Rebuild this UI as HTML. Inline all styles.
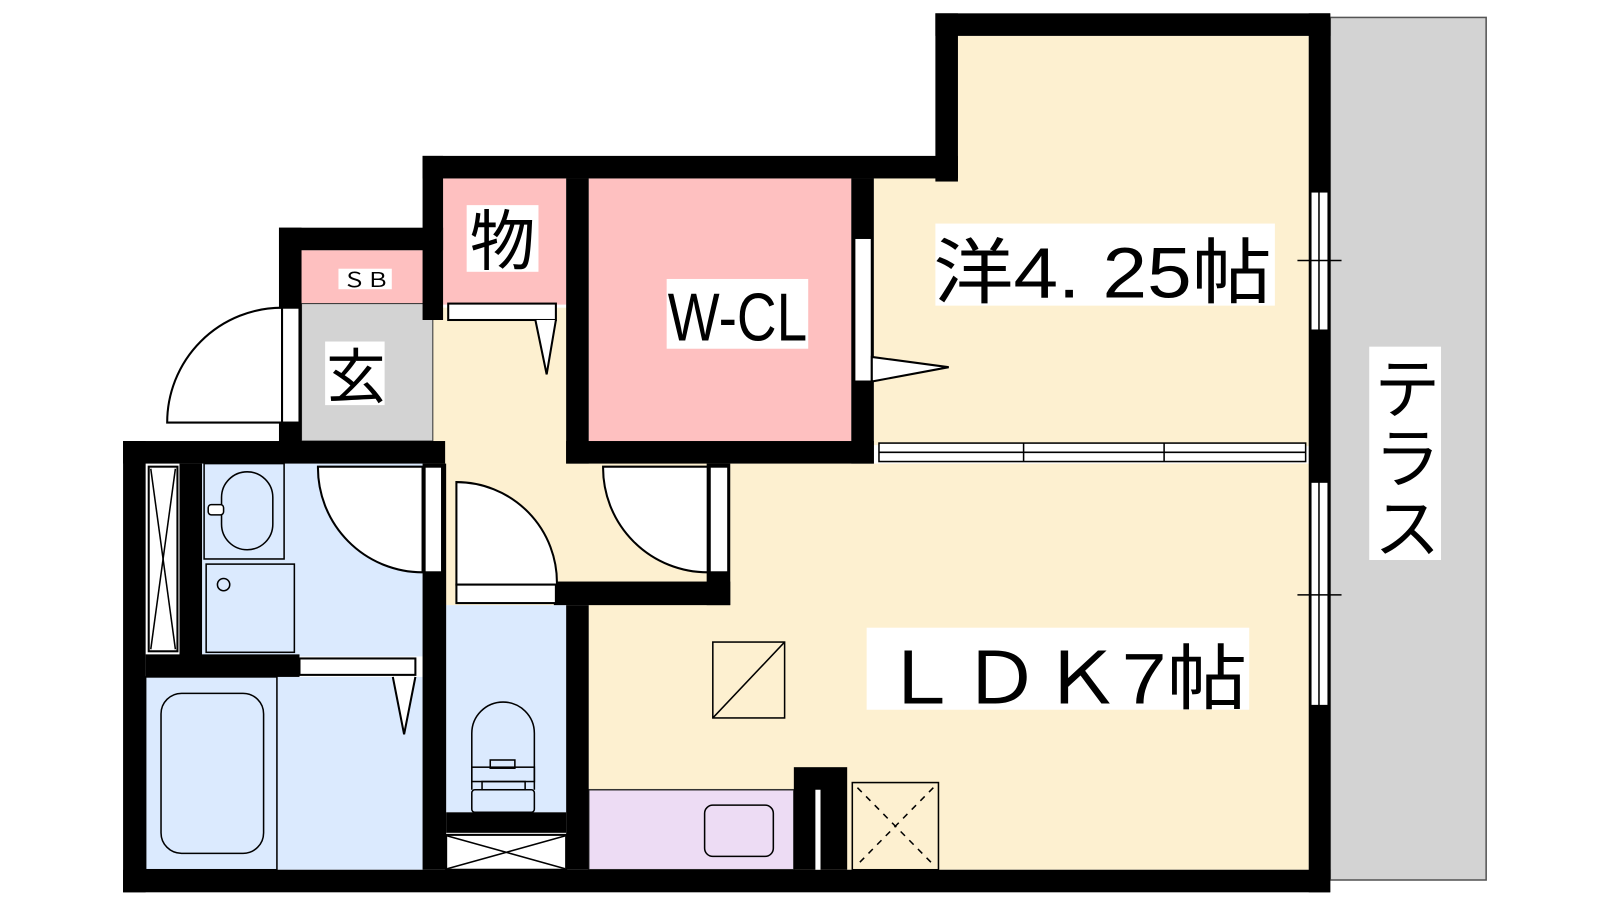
<!DOCTYPE html>
<html><head><meta charset="utf-8"><style>
html,body{margin:0;padding:0;background:#fff;width:1600px;height:900px;overflow:hidden}
svg{display:block}
text{font-family:"Liberation Sans","Noto Sans CJK JP",sans-serif;fill:#000}
</style></head><body>
<svg width="1600" height="900" viewBox="0 0 1560 877.5" preserveAspectRatio="none" xmlns="http://www.w3.org/2000/svg">
<rect x="1297" y="17" width="152" height="841" fill="#d3d3d3" stroke="#555" stroke-width="1.5"/>
<rect x="934" y="35" width="342" height="400" fill="#fdf0d0"/>
<rect x="852" y="174" width="100" height="260" fill="#fdf0d0"/>
<rect x="422" y="300" width="140" height="290" fill="#fdf0d0"/>
<rect x="435" y="440" width="260" height="130" fill="#fdf0d0"/>
<rect x="574" y="452" width="702" height="396" fill="#fdf0d0"/>
<rect x="574" y="174" width="256" height="256" fill="#fec0c0"/>
<rect x="432" y="174" width="120" height="123" fill="#fec0c0"/>
<rect x="294" y="244" width="118" height="52" fill="#fec0c0"/>
<rect x="294" y="296" width="128" height="134" fill="#d3d3d3" stroke="#333" stroke-width="1"/>
<rect x="197" y="452" width="215" height="188" fill="#dbeafe"/>
<rect x="142" y="660" width="270" height="188" fill="#dbeafe"/>
<rect x="435" y="590" width="117" height="202" fill="#dbeafe"/>
<rect x="574" y="770" width="200" height="78" fill="#eddcf4" stroke="#333" stroke-width="1.5"/>
<g fill="#000">
<rect x="912" y="13" width="385" height="22"/>
<rect x="912" y="13" width="22" height="164"/>
<rect x="1276" y="13" width="21" height="857"/>
<rect x="412" y="152" width="522" height="22"/>
<rect x="412" y="152" width="20" height="160"/>
<rect x="552" y="174" width="22" height="278"/>
<rect x="830" y="174" width="22" height="278"/>
<rect x="552" y="430" width="300" height="22"/>
<rect x="272" y="222" width="160" height="22"/>
<rect x="272" y="222" width="22" height="218"/>
<rect x="120" y="430" width="314" height="22"/>
<rect x="120" y="430" width="22" height="440"/>
<rect x="120" y="848" width="1177" height="22"/>
<rect x="175" y="452" width="22" height="188"/>
<rect x="142" y="638" width="150" height="22"/>
<rect x="412" y="452" width="23" height="396"/>
<rect x="540" y="567" width="172" height="23"/>
<rect x="689" y="452" width="23" height="138"/>
<rect x="552" y="590" width="22" height="258"/>
<rect x="435" y="792" width="117" height="20"/>
<rect x="774" y="748" width="52" height="100"/>
</g>
<rect x="795" y="770" width="5" height="78" fill="#fff"/>
<g fill="#fff" stroke="#000" stroke-width="1.5">
<rect x="1278" y="187" width="17" height="135"/>
<rect x="1278" y="470" width="17" height="218"/>
<rect x="857" y="432" width="416" height="18"/>
</g>
<g stroke="#000" stroke-width="1.5">
<line x1="1286" y1="187" x2="1286" y2="322"/><line x1="1286" y1="470" x2="1286" y2="688"/>
<line x1="1265" y1="254" x2="1308" y2="254"/><line x1="1265" y1="580" x2="1308" y2="580"/>
<line x1="857" y1="441" x2="1273" y2="441"/><line x1="998" y1="432" x2="998" y2="450"/><line x1="1135" y1="432" x2="1135" y2="450"/>
</g>
<g fill="#fff" stroke="#000" stroke-width="2">
<rect x="833" y="232" width="17" height="140"/>
<path d="M850 348 L925 358 L850 372 Z"/>
<rect x="437" y="296" width="105" height="16"/>
<path d="M522 312 L533 365 L542 312"/>
<path d="M275 300 A112 112 0 0 0 163 412 L275 412 Z"/>
<rect x="275" y="300" width="17" height="112"/>
<path d="M412 455 L310 455 A102 102 0 0 0 412 558 Z"/>
<rect x="414" y="455" width="17" height="103"/>
<path d="M445 470 A98 98 0 0 1 543 570 L445 570 Z"/>
<rect x="445" y="570" width="97" height="18"/>
<path d="M690 455 L588 455 A102 102 0 0 0 690 558 Z"/>
<rect x="692" y="455" width="18" height="103"/>
<rect x="292" y="642" width="113" height="16"/>
<path d="M383 660 L394 716 L405 660"/>
<rect x="145" y="455" width="28" height="180"/>
<rect x="435" y="814" width="117" height="34"/>
</g>
<g stroke="#000" stroke-width="1.5" fill="none">
<line x1="147" y1="457" x2="171" y2="633"/><line x1="171" y1="457" x2="147" y2="633"/>
<line x1="436" y1="815" x2="551" y2="847"/><line x1="551" y1="815" x2="436" y2="847"/>
<rect x="199" y="452" width="78" height="93" fill="#dbeafe"/>
<rect x="216" y="460" width="50" height="76" rx="25"/>
<rect x="203" y="492" width="15" height="10" rx="3" fill="#fff"/>
<rect x="201" y="550" width="86" height="86" fill="#dbeafe"/>
<circle cx="218" cy="570" r="6"/>
<rect x="142" y="660" width="128" height="188"/>
<rect x="157" y="676" width="100" height="156" rx="20"/>
<path d="M460 770 V715 A30 30 0 0 1 521 715 V770"/>
<rect x="460" y="748" width="61" height="14"/><rect x="478" y="741" width="24" height="8"/>
<rect x="470" y="762" width="42" height="8"/>
<rect x="460" y="770" width="61" height="22" rx="3"/>
<rect x="687" y="785" width="67" height="50" rx="8"/>
<rect x="695" y="626" width="70" height="74"/><line x1="695" y1="700" x2="765" y2="626"/>
<rect x="831" y="763" width="84" height="85"/>
<path d="M836 768 L910 843 M910 768 L836 843" stroke-dasharray="6 6"/>
</g>
<g fill="#fff">
<rect x="912" y="218" width="331" height="80"/>
<rect x="845" y="612" width="373" height="80"/>
<rect x="650" y="272" width="138" height="68"/>
<rect x="455" y="200" width="70" height="65"/>
<rect x="330" y="262" width="52" height="20"/>
<rect x="317" y="333" width="58" height="62"/>
<rect x="1335" y="338" width="70" height="208"/>
</g>
<text x="910" y="290" font-size="70" textLength="330" lengthAdjust="spacingAndGlyphs">洋4. 25帖</text>
<text x="858" y="686" font-size="70" textLength="358" lengthAdjust="spacingAndGlyphs">ＬＤＫ7帖</text>
<text x="651" y="332" font-size="66" textLength="136" lengthAdjust="spacingAndGlyphs">W-CL</text>
<text x="458" y="258" font-size="64">物</text>
<text x="334" y="280" font-size="20" textLength="46" lengthAdjust="spacingAndGlyphs">ＳＢ</text>
<text x="318" y="388" font-size="58">玄</text>
<text x="1340" y="402" font-size="64">テ</text>
<text x="1340" y="470" font-size="64">ラ</text>
<text x="1340" y="538" font-size="64">ス</text>
</svg>
</body></html>
